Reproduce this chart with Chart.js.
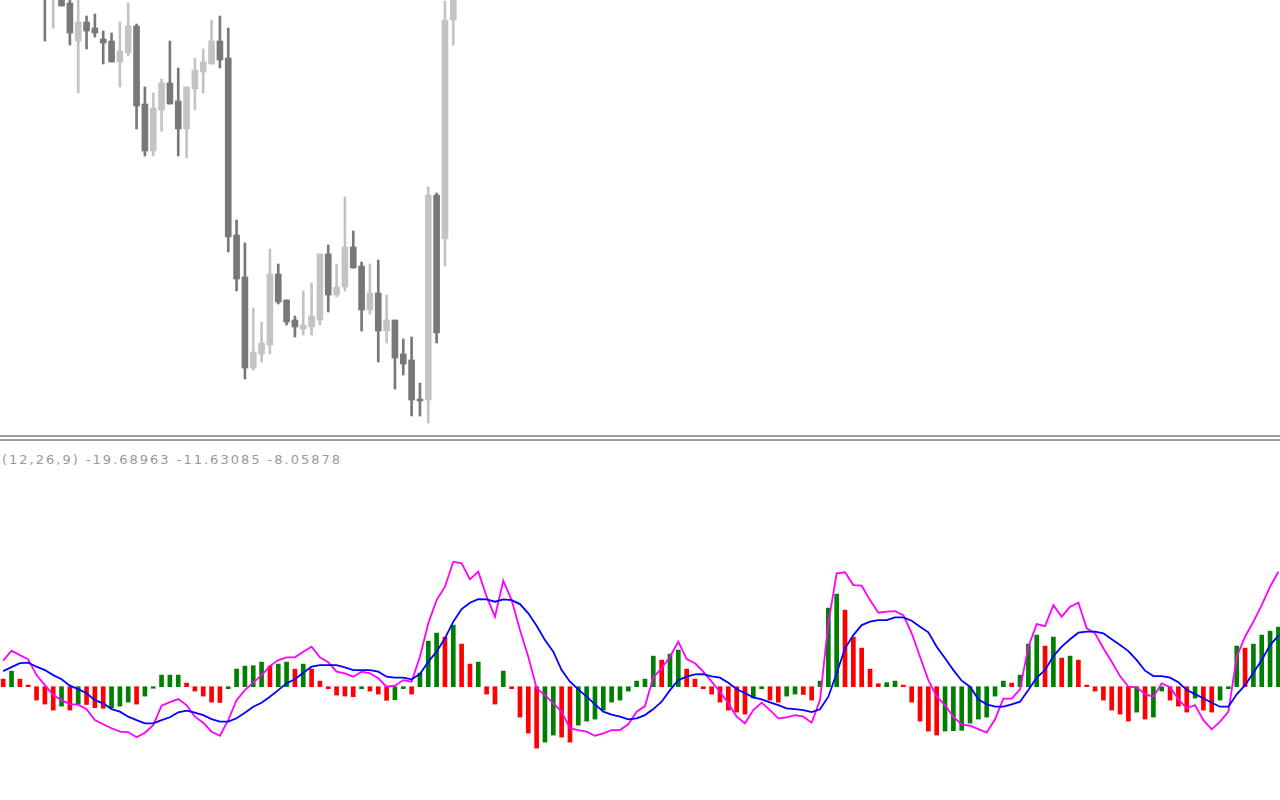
<!DOCTYPE html>
<html>
<head>
<meta charset="utf-8">
<title>Price + MACD</title>
<script src="https://cdn.jsdelivr.net/npm/chart.js@4/dist/chart.umd.min.js"></script>
<style>
    html, body { margin: 0; padding: 0; background: #fff; }
    body { width: 1280px; height: 800px; position: relative; overflow: hidden; }
    #priceChart { position: absolute; left: 0; top: 0; }
    #macdChart { position: absolute; left: 0; top: 441px; }
    .separator { position: absolute; left: 0; width: 1280px; height: 2px; background: #a0a0a0; }
    #macdLabel {
        position: absolute; left: 2px; top: 452px;
        font: 13px "DejaVu Sans", sans-serif; line-height: 15px;
        letter-spacing: 2px; color: #999; white-space: nowrap;
    }
</style>
</head>
<body>
<canvas id="priceChart" width="1280" height="435"></canvas>
<div class="separator" style="top:435px"></div>
<div class="separator" style="top:439px"></div>
<div id="macdLabel"></div>
<canvas id="macdChart" width="1280" height="359"></canvas>

<script>
// indicator label
const macdParams = [12, 26, 9];
const macdReadout = ['-19.68963', '-11.63085', '-8.05878'];

// candles (first visible bar index, then OHLC)
const firstCandle = 5;
const candleOpen  = [1012, 1006, 1010, 997, 959, 978, 972, 961, 959, 938, 947, 974, 896, 849, 890, 917, 899, 871, 911, 928,
                     936, 959, 942, 765, 723, 632, 646, 655, 726, 700, 680, 671, 673, 680, 746, 705, 713, 753, 734, 690,
                     707, 669, 680, 646, 640, 601, 600, 805, 761, 980];
const candleHigh  = [1020, 1025, 1015, 1004, 1003, 984, 986, 969, 967, 978, 997, 976, 913, 907, 921, 959, 932, 913, 942, 951,
                     980, 984, 972, 780, 757, 692, 678, 751, 736, 700, 684, 709, 717, 746, 755, 736, 803, 769, 738, 736,
                     740, 705, 680, 661, 663, 617, 813, 807, 999, 1030];
const candleLow   = [959, 972, 994, 955, 907, 951, 963, 936, 938, 913, 944, 871, 844, 844, 869, 896, 844, 842, 890, 907,
                     936, 932, 748, 709, 621, 630, 638, 646, 696, 675, 663, 665, 665, 675, 688, 703, 709, 732, 669, 686,
                     638, 657, 611, 625, 584, 584, 577, 657, 734, 955];
const candleClose = [1004, 1018, 994, 967, 978, 969, 967, 957, 938, 949, 974, 894, 849, 892, 917, 896, 871, 913, 930, 938,
                     959, 940, 763, 721, 632, 648, 657, 726, 698, 678, 673, 675, 684, 746, 705, 713, 753, 732, 690, 707,
                     669, 680, 642, 636, 600, 599, 805, 667, 980, 1015];

// MACD histogram, 1 = rising (green), 0 = falling (red)
const macdHist = [3.8, 7.8, 3.8, 0.8, -6.7, -8.7, -11.7, -9.7, -11.7, -8.7,
                  -8.9, -10.5, -10.8, -10.6, -9.7, -7.7, -8.7, -4.7, -0.8, 5.8,
                  5.8, 5.8, 1.8, -2.2, -4.7, -7.7, -7.9, -1.0, 8.8, 10.3,
                  10.5, 12.3, 10.3, 11.3, 12.3, 8.8, 11.3, 8.8, 2.8, -1.0,
                  -4.2, -4.7, -5.0, -1.0, -2.2, -3.7, -6.8, -6.5, -1.0, -3.7,
                  6.8, 22.8, 26.8, 24.8, 30.8, 21.3, 11.3, 12.3, -3.7, -8.7,
                  7.8, -1.0, -15.2, -23.2, -30.7, -27.7, -24.2, -25.2, -27.7, -19.2,
                  -17.2, -16.2, -11.7, -7.7, -6.7, -2.2, 2.8, 3.8, 15.3, 13.3,
                  16.3, 18.3, 8.8, 3.8, -1.0, -3.7, -7.7, -11.7, -12.7, -13.7,
                  -5.7, -1.0, -6.7, -7.7, -4.7, -3.7, -3.9, -6.7, 2.8, 39.3,
                  46.3, 38.3, 24.8, 19.3, 8.8, 1.5, 2.0, 2.8, 0.8, -7.7,
                  -17.2, -22.2, -24.2, -22.2, -22.0, -21.8, -18.2, -16.2, -15.2, -4.7,
                  2.8, 1.8, 5.8, 21.3, 25.8, 20.3, 24.8, 14.3, 15.3, 13.3,
                  0.8, -2.2, -6.7, -11.7, -13.7, -17.2, -12.7, -16.2, -15.2, -2.2,
                  -6.7, -9.7, -12.7, -5.7, -11.7, -12.7, -6.7, -1.0, 20.3, 19.3,
                  21.3, 25.8, 27.8, 29.8];
const histRising = [0, 1, 0, 0, 0, 0, 0, 1, 0, 1,
                    0, 0, 0, 1, 1, 1, 0, 1, 1, 1,
                    1, 1, 0, 0, 0, 0, 0, 1, 1, 1,
                    1, 1, 0, 1, 1, 0, 1, 0, 0, 0,
                    0, 0, 0, 1, 0, 0, 0, 1, 1, 0,
                    1, 1, 1, 0, 1, 0, 0, 1, 0, 0,
                    1, 0, 0, 0, 0, 1, 1, 0, 0, 1,
                    1, 1, 1, 1, 1, 1, 1, 1, 1, 0,
                    1, 1, 0, 0, 0, 0, 0, 0, 0, 0,
                    1, 1, 0, 0, 1, 1, 0, 0, 1, 1,
                    1, 0, 0, 0, 0, 0, 1, 1, 0, 0,
                    0, 0, 0, 1, 1, 1, 1, 1, 1, 1,
                    1, 0, 1, 1, 1, 0, 1, 0, 1, 0,
                    0, 0, 0, 0, 0, 0, 1, 0, 1, 1,
                    0, 0, 0, 1, 0, 0, 1, 1, 1, 0,
                    1, 1, 1, 1];

// MACD main line (magenta)
const macdMain = [13.0, 18.0, 15.8, 13.7, 5.8, 0.8, -4.2, -6.7, -8.7, -9.0,
                  -11.3, -16.7, -18.8, -20.8, -22.5, -22.7, -25.3, -23.0, -19.2, -9.5,
                  -7.7, -6.2, -9.2, -15.0, -18.0, -22.5, -24.5, -16.7, -6.7, -1.7,
                  2.0, 5.8, 10.3, 13.3, 14.7, 14.7, 17.5, 20.0, 14.7, 12.3,
                  7.5, 6.7, 5.0, 7.5, 6.7, 4.2, 0.0, 0.5, 3.3, 2.5,
                  15.0, 31.7, 43.3, 50.0, 62.5, 61.7, 53.7, 57.5, 45.0, 35.0,
                  53.0, 43.3, 28.3, 15.0, -0.8, -4.2, -8.3, -12.5, -20.8, -21.7,
                  -22.5, -24.5, -23.3, -21.7, -21.7, -18.8, -12.5, -9.7, 4.7, 9.2,
                  15.0, 22.5, 13.8, 11.7, 7.5, 2.5, -2.5, -8.3, -15.0, -18.3,
                  -11.7, -8.0, -11.7, -15.8, -15.3, -14.2, -15.0, -18.0, -6.7, 31.7,
                  56.7, 57.2, 50.8, 50.5, 43.3, 37.0, 37.5, 37.8, 35.8, 26.7,
                  15.0, 3.3, -5.0, -9.2, -15.0, -19.0, -19.5, -21.2, -23.0, -16.3,
                  -6.0, -6.0, -1.3, 20.0, 31.3, 30.3, 40.8, 35.0, 40.0, 42.0,
                  29.2, 26.7, 19.2, 12.5, 5.3, 0.0, -0.3, -3.7, -5.0, 1.7,
                  -0.3, -6.3, -10.8, -9.2, -16.7, -21.3, -17.5, -12.5, 15.0, 25.0,
                  32.5, 40.8, 50.0, 57.5];

// signal line (blue)
const macdSignal = [7.8, 9.8, 11.8, 12.0, 10.0, 8.3, 5.8, 3.7, 0.5, -1.2,
                    -3.3, -6.7, -8.3, -11.2, -12.5, -15.0, -16.7, -18.3, -18.3, -16.7,
                    -15.3, -12.8, -12.0, -13.0, -14.2, -16.2, -17.5, -17.5, -15.8, -13.0,
                    -10.0, -8.0, -5.0, -1.7, 1.7, 3.7, 7.0, 10.0, 10.8, 10.8,
                    10.8, 9.7, 8.3, 8.3, 8.3, 7.5, 5.0, 4.5, 4.5, 3.7,
                    6.3, 12.5, 17.5, 24.2, 32.5, 38.8, 42.0, 43.8, 43.7, 42.5,
                    43.7, 43.3, 41.3, 36.7, 30.5, 23.3, 17.5, 8.3, 2.5, -1.3,
                    -5.0, -8.8, -12.5, -14.0, -15.0, -16.3, -15.8, -14.2, -11.2, -7.5,
                    -1.7, 3.3, 5.0, 6.2, 6.3, 5.2, 4.5, 2.0, -1.3, -3.2,
                    -5.3, -6.3, -7.8, -9.2, -10.8, -11.2, -11.7, -12.7, -11.3, -5.0,
                    6.7, 19.2, 25.8, 30.8, 32.5, 33.3, 33.3, 34.7, 34.7, 33.0,
                    30.0, 27.2, 20.0, 14.2, 8.3, 3.0, 0.0, -6.3, -8.8, -10.0,
                    -10.0, -8.8, -7.5, -1.7, 4.5, 8.3, 15.3, 20.0, 23.7, 27.0,
                    27.5, 27.5, 26.7, 23.7, 20.8, 17.8, 13.3, 8.0, 5.3, 5.3,
                    4.5, 2.2, -1.7, -3.7, -5.8, -8.0, -10.0, -10.0, -3.8, 0.8,
                    7.0, 13.3, 20.8, 25.5];

document.addEventListener('DOMContentLoaded', function() {
    const bullColor = '#c3c3c3';
    const bearColor = '#787878';

    // shared horizontal range so candles and MACD bars line up
    const xMin = -0.384;
    const xMax = 153.19;

    document.getElementById('macdLabel').textContent =
        '(' + macdParams.join(',') + ') ' + macdReadout.join(' ');

    // candle chart: bodies and wicks as floating bars
    const bodies = candleOpen.map((o, k) => ({ x: firstCandle + k, y: [o, candleClose[k]] }));
    const wicks = candleLow.map((l, k) => ({ x: firstCandle + k, y: [l, candleHigh[k]] }));
    const candleColors = candleOpen.map((o, k) => candleClose[k] >= o ? bullColor : bearColor);

    new Chart(document.getElementById('priceChart'), {
        type: 'bar',
        data: {
            datasets: [{
                data: bodies,
                backgroundColor: candleColors,
                barThickness: 6,
                grouped: false,
                borderWidth: 0
            }, {
                data: wicks,
                backgroundColor: candleColors,
                barThickness: 2,
                grouped: false,
                borderWidth: 0
            }]
        },
        options: {
            responsive: false,
            animation: false,
            devicePixelRatio: 1,
            layout: { padding: 0 },
            plugins: { legend: { display: false }, tooltip: { enabled: false } },
            scales: {
                x: { type: 'linear', min: xMin, max: xMax, offset: false, display: false },
                y: { min: 565, max: 1000, display: false }
            }
        }
    });

    // MACD panel
    const histPoints = macdHist.map((v, i) => ({ x: i, y: v }));
    const histColors = histRising.map(r => r ? '#008000' : '#ff0000');
    const mainPoints = macdMain.map((v, i) => ({ x: i, y: v }));
    const signalPoints = macdSignal.map((v, i) => ({ x: i, y: v }));

    new Chart(document.getElementById('macdChart'), {
        type: 'bar',
        data: {
            datasets: [{
                type: 'line',
                data: signalPoints,
                borderColor: '#0000ff',
                borderWidth: 1.8,
                pointRadius: 0,
                tension: 0
            }, {
                type: 'line',
                data: mainPoints,
                borderColor: '#ff00ff',
                borderWidth: 1.8,
                pointRadius: 0,
                tension: 0
            }, {
                data: histPoints,
                backgroundColor: histColors,
                barThickness: 4,
                grouped: false,
                borderWidth: 0
            }]
        },
        options: {
            responsive: false,
            animation: false,
            devicePixelRatio: 1,
            layout: { padding: 0 },
            plugins: { legend: { display: false }, tooltip: { enabled: false } },
            scales: {
                x: { type: 'linear', min: xMin, max: xMax, offset: false, display: false },
                y: { min: -56.65, max: 122.85, display: false }
            }
        }
    });
});
</script>
</body>
</html>
